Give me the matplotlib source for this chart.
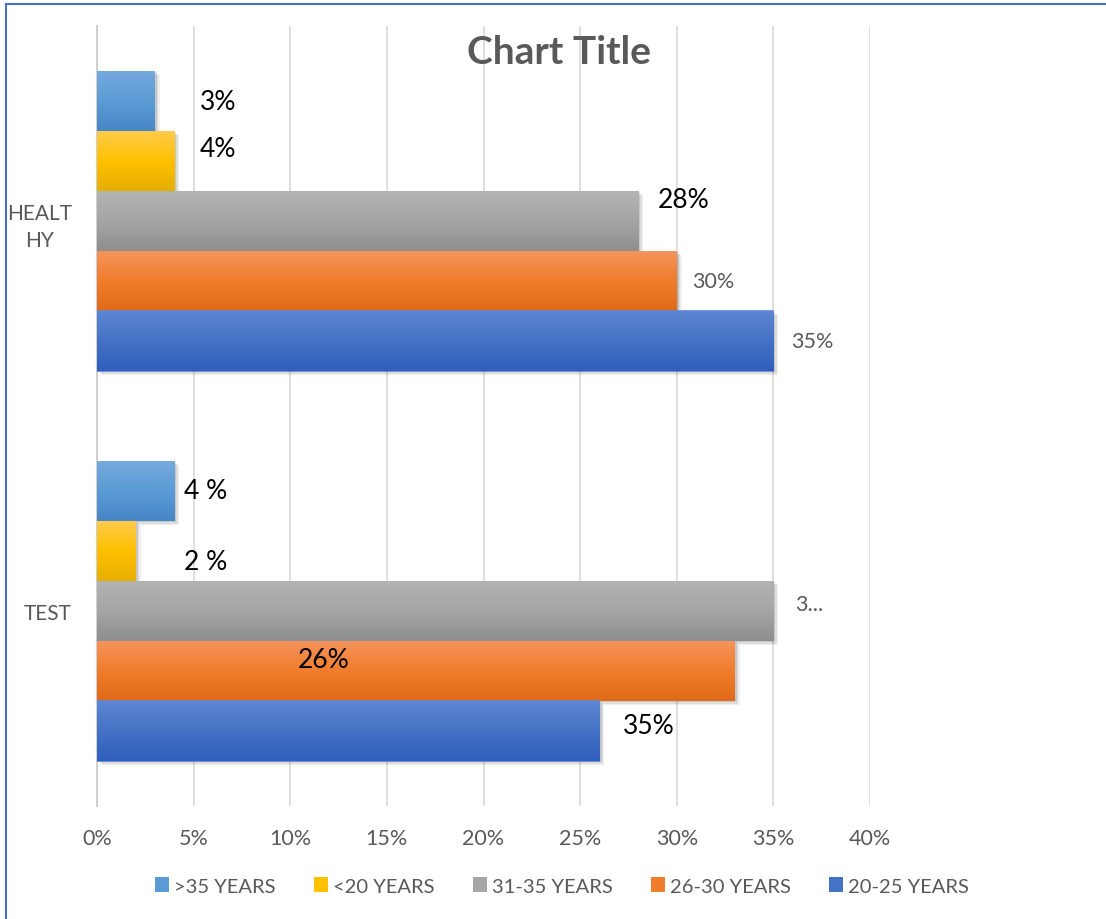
import numpy as np
import matplotlib
matplotlib.use('Agg')
import matplotlib.pyplot as plt
import matplotlib.patheffects as pe
from matplotlib.patches import Patch
from matplotlib.lines import Line2D
from matplotlib.colors import LinearSegmentedColormap

### Datos

categorias = ['TEST', 'HEALT\nHY']
series = ['>35 YEARS', '<20 YEARS', '31-35 YEARS', '26-30 YEARS', '20-25 YEARS']

# valores en % por serie: [TEST, HEALTHY]
mayores_35 = [4, 3]
menores_20 = [2, 4]
de_31_35 = [35, 28]
de_26_30 = [33, 30]
de_20_25 = [26, 35]
valores = [mayores_35, menores_20, de_31_35, de_26_30, de_20_25]

# texto de la etiqueta de cada barra: [TEST, HEALTHY]
etiquetas = [['4 %', '3%'],
             ['2 %', '4%'],
             ['3...', '28%'],
             ['26%', '30%'],
             ['35%', '35%']]

ticks_x = [0, 5, 10, 15, 20, 25, 30, 35, 40]

### Estilo

# degradado de cada serie (arriba, centro, abajo)
degradados = [('#74AADE', '#5B9BD5', '#4686C6'),
              ('#FFCB4A', '#FFC000', '#E6AE00'),
              ('#B3B3B3', '#A5A5A5', '#8E8E8E'),
              ('#F4935B', '#F07D2C', '#E0691A'),
              ('#5D86D3', '#4472C4', '#2F5EBD')]

# etiquetas movidas a mano: x (en %), desplazamiento vertical (px), grande o no
pos_etiquetas = [[(4.5, 0, True), (5.3, 0, True)],
                 [(4.5, -11, True), (5.3, 13, True)],
                 [(36.1, 7, False), (29.0, 22, True)],
                 [(10.4, 12, True), (30.8, 0, False)],
                 [(27.2, 6, True), (35.9, 0, False)]]

gris_texto = '#595959'
plt.rcParams['font.family'] = ['Lato', 'DejaVu Sans']

fig = plt.figure(figsize=(11.06, 9.2), dpi=100)
ax = fig.add_axes([97 / 1106, 113 / 920, 773 / 1106, 780 / 920])

alto = 1 / 6.5  # ancho de hueco 150 %
y_cat = np.arange(len(categorias))


# Función para pintar una barra con degradado vertical
def barra_degradado(ax, rect, colores, z):
    cmap = LinearSegmentedColormap.from_list('g', colores[::-1])
    grad = np.linspace(0, 1, 64).reshape(-1, 1)
    x0, y0 = rect.get_x(), rect.get_y()
    w, h = rect.get_width(), rect.get_height()
    im = ax.imshow(grad, cmap=cmap, extent=[x0, x0 + w, y0, y0 + h],
                   origin='lower', aspect='auto', interpolation='bicubic',
                   zorder=z + 0.5)
    im.set_clip_path(rect)


for i, (nombre, vals) in enumerate(zip(series, valores)):
    z = 3 + i
    bars = ax.barh(y_cat + (2 - i) * alto, vals, height=alto,
                   color=degradados[i][1], zorder=z,
                   edgecolor='#5B86D6' if i == 4 else 'none',
                   linewidth=1.2 if i == 4 else 0)
    for b in bars:
        b.set_path_effects([
            pe.SimplePatchShadow(offset=(3.5, -3), shadow_rgbFace='k', alpha=0.06),
            pe.SimplePatchShadow(offset=(2.5, -2), shadow_rgbFace='k', alpha=0.08),
            pe.SimplePatchShadow(offset=(1.5, -1), shadow_rgbFace='k', alpha=0.1),
            pe.Normal()])
        barra_degradado(ax, b, degradados[i], z)
    # etiquetas de datos
    for j, b in enumerate(bars):
        px, dy, grande = pos_etiquetas[i][j]
        ax.annotate(etiquetas[i][j], (px, b.get_y() + b.get_height() / 2),
                    xytext=(0, dy), textcoords='offset pixels',
                    ha='left', va='center',
                    fontsize=19 if grande else 15.5,
                    color='black' if grande else gris_texto, zorder=20)

ax.set_xlim(0, 40)
ax.set_ylim(-0.5, len(categorias) - 0.5)
ax.set_xticks(ticks_x)
ax.set_xticklabels([f'{t}%' for t in ticks_x])
ax.set_yticks(y_cat)
ax.set_yticklabels(categorias, multialignment='center', linespacing=1.45)

ax.grid(axis='x', color='#D9D9D9', linewidth=1.2, zorder=0)
ax.set_axisbelow(True)
for s in ['top', 'right', 'bottom']:
    ax.spines[s].set_visible(False)
ax.spines['left'].set_color('#D0D0D0')
ax.spines['left'].set_linewidth(1.5)
ax.tick_params(axis='x', length=0, pad=16, labelsize=15.5, labelcolor=gris_texto)
ax.tick_params(axis='y', length=0, pad=18, labelsize=15, labelcolor=gris_texto)

fig.text(0.505, 1 - 52 / 920, 'Chart Title', ha='center', va='center',
         fontsize=28, fontweight='bold', color=gris_texto)

# leyenda
handles = [Patch(facecolor=degradados[i][1], edgecolor='none', label=s)
           for i, s in enumerate(series)]
fig.legend(handles=handles, loc='center', bbox_to_anchor=(562 / 1106, 33 / 920),
           ncol=5, frameon=False, fontsize=14.5, labelcolor=gris_texto,
           handlelength=0.7, handleheight=0.7, handletextpad=0.25,
           columnspacing=1.9)

# borde del gráfico
fig.add_artist(Line2D([6 / 1106, 6 / 1106], [0, 1 - 5 / 920], color='#4472C4',
                      linewidth=1.5, transform=fig.transFigure))
fig.add_artist(Line2D([6 / 1106, 1], [1 - 5 / 920, 1 - 5 / 920], color='#4472C4',
                      linewidth=1.5, transform=fig.transFigure))

fig.savefig('out.png', dpi=100)
